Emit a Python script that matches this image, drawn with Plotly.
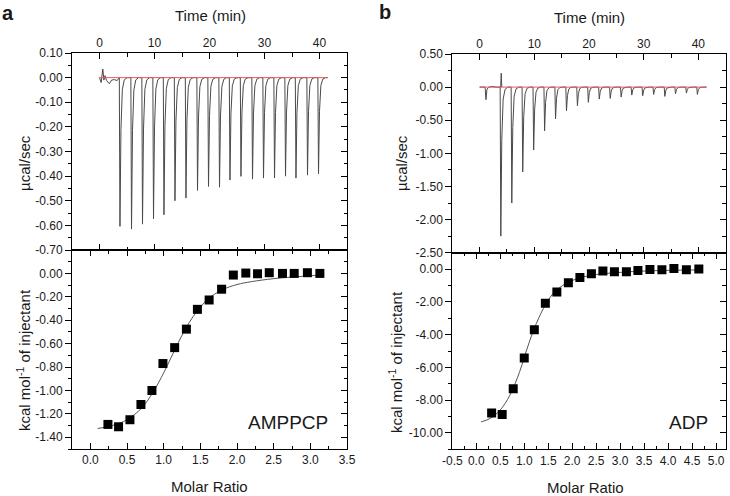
import plotly.graph_objects as go

# ---------------- Panel a : AMPPCP ----------------
a_pre_time = [0.0, 0.3, 0.6, 0.8, 1.0, 1.3, 1.8, 2.2, 2.7, 3.2]
a_pre_power = [0.0, -0.02, 0.035, -0.01, 0.008, -0.012, -0.025, -0.01, -0.008, -0.012]
a_inj_time = [3.6, 5.7, 7.7, 9.7, 11.6, 13.6, 15.6, 17.7, 19.7, 21.7,
              23.6, 25.6, 27.7, 29.7, 31.7, 33.7, 35.6, 37.7, 39.7]
a_inj_peak = [-0.604, -0.615, -0.595, -0.574, -0.557, -0.500, -0.489, -0.458, -0.442, -0.445,
              -0.416, -0.401, -0.412, -0.408, -0.407, -0.400, -0.408, -0.396, -0.390]
a_ratio = [0.24, 0.385, 0.54, 0.69, 0.84, 0.99, 1.15, 1.31, 1.46, 1.62,
           1.79, 1.95, 2.12, 2.28, 2.44, 2.62, 2.78, 2.96, 3.13]
a_heat = [-1.29, -1.31, -1.25, -1.12, -1.00, -0.77, -0.634, -0.476, -0.307, -0.227,
          -0.135, -0.014, 0.003, -0.003, 0.006, 0.0, 0.0, 0.006, 0.0]
a_fit_ratio = [0.1, 0.3, 0.5, 0.7, 0.85, 1.0, 1.1, 1.2, 1.3, 1.4, 1.5, 1.6, 1.8, 2.0, 2.2, 2.5, 3.0, 3.13]
a_fit_heat = [-1.325, -1.30, -1.25, -1.15, -1.02, -0.85, -0.72, -0.59, -0.47, -0.37,
              -0.29, -0.22, -0.14, -0.095, -0.07, -0.045, -0.02, -0.015]

# ---------------- Panel b : ADP ----------------
b_pre_time = [0.0, 1.0, 1.15, 1.35, 1.7, 2.2, 3.0, 3.5]
b_pre_power = [0.0, 0.0, -0.19, -0.03, 0.0, 0.01, 0.0, 0.0]
b_spike_time = [3.85, 3.95, 4.05]
b_spike_power = [0.0, 0.21, 0.0]
b_inj_time = [3.75, 5.76, 7.76, 9.76, 11.76, 13.76, 15.76, 17.76, 19.76, 21.76,
              23.76, 25.76, 27.7, 29.7, 31.7, 33.75, 35.7, 37.7, 39.7]
b_inj_peak = [-2.25, -1.75, -1.28, -0.95, -0.66, -0.48, -0.36, -0.28, -0.23, -0.18,
              -0.17, -0.15, -0.12, -0.13, -0.11, -0.14, -0.10, -0.09, -0.11]
b_ratio = [0.32, 0.54, 0.77, 1.0, 1.21, 1.44, 1.68, 1.92, 2.16, 2.40,
           2.64, 2.88, 3.13, 3.37, 3.62, 3.87, 4.12, 4.38, 4.64]
b_heat = [-8.79, -8.87, -7.31, -5.43, -3.70, -2.08, -1.40, -0.83, -0.51, -0.28,
          -0.12, -0.16, -0.16, -0.08, -0.02, -0.04, 0.04, -0.04, 0.0]
b_fit_ratio = [0.1, 0.3, 0.5, 0.7, 0.9, 1.0, 1.1, 1.2, 1.3, 1.4, 1.5, 1.6, 1.8, 2.0,
               2.2, 2.5, 3.0, 3.5, 4.0, 4.64]
b_fit_heat = [-9.33, -9.1, -8.6, -7.7, -6.3, -5.4, -4.5, -3.7, -3.0, -2.4, -1.9, -1.5,
              -1.0, -0.7, -0.5, -0.33, -0.2, -0.12, -0.08, -0.05]

end_time = 41.5

# tick values / labels
time_ticks = [0, 10, 20, 30, 40]
a_power_ticks = [0.10, 0.00, -0.10, -0.20, -0.30, -0.40, -0.50, -0.60, -0.70]
a_heat_ticks = [0.00, -0.20, -0.40, -0.60, -0.80, -1.00, -1.20, -1.40]
a_ratio_ticks = [0.0, 0.5, 1.0, 1.5, 2.0, 2.5, 3.0, 3.5]
b_power_ticks = [0.50, 0.00, -0.50, -1.00, -1.50, -2.00, -2.50]
b_heat_ticks = [0.00, -2.00, -4.00, -6.00, -8.00, -10.00]
b_ratio_ticks = [-0.5, 0.0, 0.5, 1.0, 1.5, 2.0, 2.5, 3.0, 3.5, 4.0, 4.5, 5.0]


def thermogram(pre_t, pre_p, inj_t, inj_p):
    xs, ys = list(pre_t), list(pre_p)
    for t, p in zip(inj_t, inj_p):
        xs += [t, t + 0.12, t + 0.3, t + 0.55, t + 0.9, t + 1.4]
        ys += [0.0, p, p * 0.35, p * 0.08, p * 0.015, 0.0]
    xs.append(end_time)
    ys.append(0.0)
    return xs, ys


W, H = 730, 496
FONT = "Liberation Sans, Arial, sans-serif"
TXT = "#1a1a1a"


def px(v):
    return v / W


def py(v):
    return 1 - v / H


fig = go.Figure()

LINE = dict(color="#4a4a4a", width=1)
RED = dict(color="#e8585c", width=1)

# panel a thermogram
ax, ay = thermogram(a_pre_time, a_pre_power, a_inj_time, a_inj_peak)
fig.add_trace(go.Scatter(x=ax, y=ay, mode="lines", line=LINE, xaxis="x", yaxis="y"))
fig.add_trace(go.Scatter(x=[0, end_time], y=[0, 0], mode="lines", line=RED, xaxis="x", yaxis="y"))
# panel a isotherm
fig.add_trace(go.Scatter(x=a_fit_ratio, y=a_fit_heat, mode="lines", line=dict(color="#555", width=1),
                         line_shape="spline", xaxis="x3", yaxis="y3"))
fig.add_trace(go.Scatter(x=a_ratio, y=a_heat, mode="markers",
                         marker=dict(symbol="square", size=9, color="black"), xaxis="x3", yaxis="y3"))

# panel b thermogram
bx, by = thermogram(b_pre_time, b_pre_power, b_inj_time, b_inj_peak)
fig.add_trace(go.Scatter(x=bx, y=by, mode="lines", line=LINE, xaxis="x5", yaxis="y5"))
fig.add_trace(go.Scatter(x=b_spike_time, y=b_spike_power, mode="lines", line=LINE, xaxis="x5", yaxis="y5"))
fig.add_trace(go.Scatter(x=[0, end_time], y=[0, 0], mode="lines", line=RED, xaxis="x5", yaxis="y5"))
# panel b isotherm
fig.add_trace(go.Scatter(x=b_fit_ratio, y=b_fit_heat, mode="lines", line=dict(color="#555", width=1),
                         line_shape="spline", xaxis="x7", yaxis="y7"))
fig.add_trace(go.Scatter(x=b_ratio, y=b_heat, mode="markers",
                         marker=dict(symbol="square", size=9, color="black"), xaxis="x7", yaxis="y7"))

# dummy traces so mirror axes are drawn
for xa, ya in [("x2", "y2"), ("x4", "y4"), ("x6", "y6"), ("x8", "y8")]:
    fig.add_trace(go.Scatter(x=[None], y=[None], xaxis=xa, yaxis=ya, hoverinfo="skip"))

TF = dict(family=FONT, size=12, color=TXT)


def axis(domain, rng, tickvals, ticktext, ticks, minor_dtick, minor_tick0, side, anchor,
         overlaying=None, labels=True):
    d = dict(domain=domain, range=rng, tickmode="array", tickvals=tickvals,
             showticklabels=labels,
             ticks=ticks, ticklen=6, tickwidth=1, tickcolor="black",
             minor=dict(ticks=ticks, ticklen=3.5, tickwidth=1, tickcolor="black",
                        dtick=minor_dtick, tick0=minor_tick0, showgrid=False),
             showline=True, linecolor="black", linewidth=1, mirror=False,
             showgrid=False, zeroline=False, side=side, anchor=anchor,
             tickfont=TF, fixedrange=True, automargin=False)
    if labels:
        d["ticktext"] = ticktext
    if overlaying:
        d["overlaying"] = overlaying
        d.pop("domain")
    return d


A_X = [px(72), px(347)]
A_TOP = [py(250), py(53)]
A_BOT = [py(449), py(250)]
B_X = [px(452.3), px(725.7)]
B_TOP = [py(252.7), py(54)]
B_BOT = [py(449.3), py(252.7)]

time_lbl = [str(v) for v in time_ticks]
layout_axes = dict(
    # panel a top
    xaxis=axis(A_X, [-5, 45], time_ticks, time_lbl, "inside", 5, 0, "top", "y"),
    xaxis2=axis(A_X, [-5, 45], time_ticks, None, "inside", 5, 0, "bottom", "y", overlaying="x", labels=False),
    yaxis=axis(A_TOP, [-0.7, 0.1], a_power_ticks, [f"{v:.2f}" for v in a_power_ticks], "outside", 0.05, 0, "left", "x"),
    yaxis2=axis(A_TOP, [-0.7, 0.1], a_power_ticks, None, "inside", 0.05, 0, "right", "x", overlaying="y", labels=False),
    # panel a bottom
    xaxis3=axis(A_X, [-0.25, 3.5], a_ratio_ticks, [f"{v:.1f}" for v in a_ratio_ticks], "inside", 0.25, 0, "bottom", "y3"),
    xaxis4=axis(A_X, [-0.25, 3.5], a_ratio_ticks, None, "inside", 0.25, 0, "top", "y3", overlaying="x3", labels=False),
    yaxis3=axis(A_BOT, [-1.5, 0.2], a_heat_ticks, [f"{v:.2f}" for v in a_heat_ticks], "outside", 0.1, 0, "left", "x3"),
    yaxis4=axis(A_BOT, [-1.5, 0.2], a_heat_ticks, None, "inside", 0.1, 0, "right", "x3", overlaying="y3", labels=False),
    # panel b top
    xaxis5=axis(B_X, [-5, 45], time_ticks, time_lbl, "inside", 5, 0, "top", "y5"),
    xaxis6=axis(B_X, [-5, 45], time_ticks, None, "inside", 5, 0, "bottom", "y5", overlaying="x5", labels=False),
    yaxis5=axis(B_TOP, [-2.5, 0.5], b_power_ticks, [f"{v:.2f}" for v in b_power_ticks], "outside", 0.25, 0, "left", "x5"),
    yaxis6=axis(B_TOP, [-2.5, 0.5], b_power_ticks, None, "inside", 0.25, 0, "right", "x5", overlaying="y5", labels=False),
    # panel b bottom
    xaxis7=axis(B_X, [-0.5, 5.2], b_ratio_ticks, [f"{v:.1f}" for v in b_ratio_ticks], "inside", 0.25, 0, "bottom", "y7"),
    xaxis8=axis(B_X, [-0.5, 5.2], b_ratio_ticks, None, "inside", 0.25, 0, "top", "y7", overlaying="x7", labels=False),
    yaxis7=axis(B_BOT, [-11, 1], b_heat_ticks, [f"{v:.2f}" for v in b_heat_ticks], "outside", 1, 0, "left", "x7"),
    yaxis8=axis(B_BOT, [-11, 1], b_heat_ticks, None, "inside", 1, 0, "right", "x7", overlaying="y7", labels=False),
)

ann = []


def text(x, y, s, size=14, angle=0, bold=False):
    ann.append(dict(x=px(x), y=py(y), xref="paper", yref="paper", text=f"<b>{s}</b>" if bold else s,
                    showarrow=False, textangle=angle, xanchor="center", yanchor="middle",
                    font=dict(family=FONT, size=size, color=TXT)))


text(8, 13, "a", 20, bold=True)
text(385, 12, "b", 20, bold=True)
text(210, 16, "Time (min)", 15)
text(589, 17, "Time (min)", 15)
text(24, 163, "µcal/sec", 15, -90)
text(401, 163, "µcal/sec", 15, -90)
text(23, 360, "kcal mol<sup>-1</sup> of injectant", 15, -90)
text(395, 362, "kcal mol<sup>-1</sup> of injectant", 15, -90)
text(209, 486, "Molar Ratio", 15)
text(585, 487, "Molar Ratio", 15)
text(288, 422, "AMPPCP", 19)
text(688, 422, "ADP", 19)

fig.update_layout(width=W, height=H, margin=dict(l=0, r=0, t=0, b=0),
                  paper_bgcolor="white", plot_bgcolor="white", showlegend=False,
                  hovermode=False, annotations=ann, **layout_axes)

fig.write_html("out.html", config={"displayModeBar": False, "staticPlot": True},
               post_script="document.body.style.margin='0';document.body.style.overflow='hidden';")
